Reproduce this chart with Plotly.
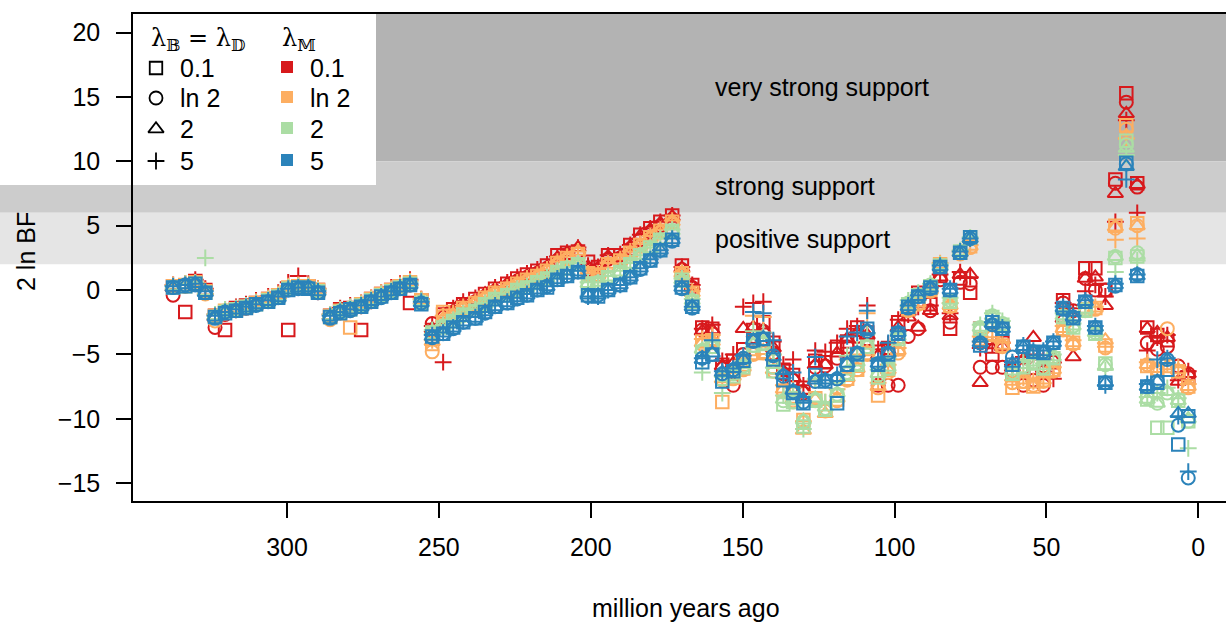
import plotly.graph_objects as go

# ---------------- data ----------------
T = [337.5, 333.5, 330.2, 326.9,
     323.7, 320.4, 316.8, 313.5, 310.2, 306.2, 302.9, 299.6, 296.3, 293.0, 289.8,
     285.8, 282.5, 279.2, 275.6, 272.3, 269.0, 265.7, 262.8, 259.5, 255.8,
     252.2, 248.6, 245.3, 242.0, 238.0, 234.8, 231.5, 227.5, 224.2, 221.0, 217.6, 214.4, 211.0, 207.8, 204.2,
     200.9, 197.6, 194.3, 190.3, 187.0, 183.7, 180.4, 177.1, 173.2,
     170.0, 166.6, 163.3, 160.0, 156.7, 153.1, 149.8, 146.5, 143.2, 139.9, 136.6, 133.4, 130.0, 126.1, 122.8,
     118.9, 115.6, 112.3, 109.0, 105.4, 102.1, 98.8, 95.5, 92.2, 88.2, 85.0, 81.7, 78.4, 75.1,
     71.8, 67.8, 64.5, 61.2, 57.6, 54.3, 51.0, 47.7, 44.5, 41.2, 37.2, 33.9, 30.6, 27.3, 23.7, 20.1,
     16.8, 13.5, 10.2, 6.6, 3.3]

# lambda_M = 0.1 (red)
R_sq = [0.3, -1.7, 0.7, 0.0,
        -2.0, -3.1, -1.4, -1.2, -1.0, -0.7, -0.4, -3.1, 0.3, 0.3, 0.0,
        -2.0, -1.5, -1.4, -3.1, -0.7, -0.3, 0.0, 0.3, -1.0, -0.8,
        -3.1, -1.9, -1.5, -1.1, -0.7, -0.3, 0.1, 0.5, 0.9, 1.2, 1.5, 1.9, 2.7, 2.9, 3.0,
        2.2, 1.8, 2.7, 2.7, 3.5, 4.3, 4.8, 5.3, 5.8,
        1.9, 0.4, -2.9, -3.0, -5.8, -5.5, -4.6, -3.1, -2.5, -4.1, -6.2, -6.6, -7.6, -5.5, -5.6,
        -4.4, -4.0, -2.9, -3.3, -4.8, -4.5, -2.5, -1.5, -0.2, -1.1, 1.1, -3.0, 0.9, -0.2,
        -3.0, -5.0, -4.1, -6.5, -6.2, -6.6, -6.4, -5.6, -0.8, -1.9, 1.7, 1.7, 0.0, 8.6, 15.3, 8.3,
        -2.9, -3.5, -3.9, -6.3, -6.8]
R_ci = [-0.4, 0.3, 0.6, -0.1,
        -2.9, -1.9, -1.6, -1.4, -1.1, -0.8, -0.5, 0.1, 0.2, 0.3, -0.2,
        -2.1, -1.7, -1.5, -1.3, -0.9, -0.4, -0.1, 0.2, 0.4, -1.0,
        -2.6, -2.1, -1.7, -1.2, -0.9, -0.5, -0.1, 0.3, 0.7, 1.0, 1.3, 1.7, 2.3, 2.6, 2.9,
        1.6, 1.6, 2.4, 2.5, 3.2, 3.9, 4.5, 5.0, 5.5,
        1.6, 0.2, -3.1, -3.4, -6.1, -7.4, -5.0, -3.6, -3.2, -4.9, -6.5, -7.0, -8.0, -6.0, -5.9,
        -5.3, -4.4, -3.6, -3.8, -7.4, -7.4, -7.4, -3.6, -3.0, -1.6, 0.8, -2.5, 0.6, 0.5,
        -6.0, -6.0, -6.0, -6.3, -7.4, -7.0, -7.4, -6.3, -1.0, -1.6, 0.9, 0.0, 0.0, 8.3, 14.6, 8.0,
        -4.1, -4.6, -4.4, -5.9, -6.5]
R_tr = [0.2, 0.4, 0.6, -0.1,
        -2.1, -1.7, -1.5, -1.3, -1.0, -0.7, -0.4, 0.2, 0.3, 0.3, 0.0,
        -2.0, -1.6, -1.4, -1.2, -0.7, -0.3, 0.0, 0.3, 0.6, -0.8,
        -3.0, -1.9, -1.6, -1.1, -0.8, -0.3, 0.1, 0.5, 0.8, 1.1, 1.4, 1.8, 2.5, 2.9, 3.3,
        1.8, 1.7, 2.6, 2.6, 3.4, 4.2, 4.7, 5.2, 5.7,
        1.7, 0.3, -3.2, -3.1, -5.9, -5.7, -3.0, -2.9, -3.1, -4.5, -6.3, -6.8, -7.8, -5.8, -5.8,
        -4.9, -3.8, -3.3, -3.5, -5.1, -4.7, -2.9, -2.1, -2.9, -1.6, 1.0, -2.0, 1.2, 1.2,
        -7.2, -4.6, -4.4, -6.0, -5.4, -3.7, -6.1, -5.4, -2.2, -5.2, 0.9, 1.0, -1.2, 7.5, 13.7, 8.2,
        -3.0, -3.3, -3.7, -7.1, -6.5]
R_pl = [0.4, 0.5, 0.8, 0.1,
        -1.9, -1.5, -1.3, -1.1, -0.8, -0.5, -0.2, 0.6, 1.1, 0.5, 0.1,
        -1.9, -1.4, -1.2, -1.0, -0.6, -0.2, 0.2, 0.5, 0.8, -0.7,
        -2.8, -5.6, -1.4, -0.9, -0.6, -0.8, 0.2, 0.6, 1.0, 1.3, 1.6, 2.0, 2.6, 2.9, 3.3,
        1.9, 1.8, 2.7, 2.8, 3.5, 4.3, 4.8, 5.3, 5.8,
        1.8, 0.4, -3.0, -2.7, -5.5, -5.0, -1.3, -1.0, -0.9, -4.0, -5.8, -5.4, -7.4, -4.7, -4.8,
        -4.1, -3.0, -2.8, -1.2, -4.6, -4.2, -2.3, -1.9, -1.3, -1.2, 1.2, -1.8, 1.4, 1.0,
        -4.5, -4.2, -4.1, -5.8, -5.2, -5.0, -5.4, -6.9, -1.0, -1.8, -0.1, 0.4, -0.5, 5.3, 13.2, 6.0,
        -4.7, -3.7, -3.5, -7.0, -6.3]

# lambda_M = ln 2 (orange)
O_sq = [0.3, 0.4, 0.6, -0.1,
        -2.0, -1.6, -1.5, -1.3, -1.0, -0.7, -0.4, 0.2, 0.3, 0.3, 0.0,
        -2.0, -1.6, -2.9, -1.1, -0.7, -0.3, 0.0, 0.3, 0.6, -0.8,
        -4.2, -1.7, -2.0, -1.4, -1.0, -0.6, -0.2, 0.1, 0.5, 0.8, 1.1, 1.5, 2.1, 2.5, 2.8,
        1.3, 1.2, 2.0, 2.3, 2.9, 3.5, 4.1, 4.6, 5.3,
        1.3, -0.2, -4.0, -3.9, -8.7, -6.8, -6.1, -4.9, -4.8, -6.0, -7.8, -8.4, -10.1, -8.4, -9.3,
        -8.5, -6.9, -6.2, -4.9, -8.2, -6.2, -4.6, -1.5, -1.0, 0.0, 2.0, -1.2, 2.9, 3.4,
        -3.8, -3.4, -4.3, -7.6, -7.1, -7.5, -7.0, -6.2, -3.0, -4.1, -1.5, -1.4, -4.3, 5.0, 12.8, 5.2,
        -5.9, -6.2, -5.9, -6.3, -7.5]
O_ci = [0.2, 0.3, 0.5, -0.3,
        -2.4, -1.8, -1.6, -1.4, -1.1, -0.8, -0.5, 0.1, 0.2, 0.2, -0.1,
        -2.3, -1.8, -1.6, -1.3, -0.9, -0.4, -0.1, 0.2, 0.5, -0.9,
        -4.8, -2.0, -2.1, -1.5, -1.1, -0.7, -0.3, 0.0, 0.4, 0.7, 1.0, 1.4, 2.0, 2.4, 2.8,
        1.2, 1.1, 1.9, 2.2, 2.8, 3.4, 4.0, 4.5, 5.2,
        1.2, -0.3, -4.2, -4.1, -7.0, -6.9, -6.2, -5.0, -4.9, -6.3, -7.9, -8.6, -10.3, -8.6, -9.4,
        -8.6, -7.0, -6.2, -5.0, -7.6, -6.4, -4.9, -1.6, -1.1, -0.1, 1.9, -1.3, 2.8, 3.3,
        -3.9, -3.5, -4.4, -7.2, -7.1, -7.4, -7.1, -6.3, -3.1, -4.2, -1.6, -1.5, -4.5, 4.8, 12.5, 5.0,
        -5.8, -6.2, -3.0, -6.3, -7.6]
O_tr = [0.3, 0.4, 0.6, -0.1,
        -2.0, -1.6, -1.4, -1.2, -1.0, -0.7, -0.4, 0.2, 0.3, 0.3, 0.0,
        -2.0, -1.6, -1.4, -1.1, -0.7, -0.3, 0.0, 0.3, 0.6, -0.8,
        -4.0, -2.2, -1.9, -1.4, -1.0, -0.6, -0.2, 0.1, 0.5, 0.8, 1.1, 1.5, 2.1, 2.5, 3.0,
        1.2, 1.2, 2.0, 2.3, 2.9, 3.5, 4.1, 4.6, 5.3,
        1.3, -0.2, -4.1, -4.0, -6.9, -6.7, -6.0, -4.8, -4.7, -6.2, -7.7, -8.5, -10.9, -8.5, -9.6,
        -8.4, -6.8, -6.1, -4.8, -7.5, -6.2, -4.7, -1.5, -1.0, 0.0, 2.0, -1.2, 2.9, 3.4,
        -3.8, -3.4, -4.3, -7.1, -7.0, -7.3, -7.0, -6.2, -3.0, -4.1, -1.5, -1.4, -3.9, 4.9, 12.0, 5.0,
        -5.8, -6.1, -5.9, -6.2, -7.5]
O_pl = [0.4, 0.5, 0.6, 0.0,
        -1.9, -1.5, -1.4, -1.2, -0.9, -0.6, -0.3, 0.3, 0.4, 0.4, 0.1,
        -1.9, -1.5, -1.3, -1.0, -0.6, -0.2, 0.1, 0.4, 0.7, -0.7,
        -3.9, -2.0, -1.8, -1.3, -0.9, -0.5, -0.1, 0.2, 0.6, 0.9, 1.2, 1.6, 2.2, 2.6, 3.0,
        1.3, 1.3, 2.1, 2.4, 3.0, 3.6, 4.2, 4.7, 5.4,
        1.4, -0.1, -3.8, -3.5, -6.7, -6.2, -5.3, -2.0, -2.1, -5.0, -7.4, -7.6, -10.2, -7.0, -8.7,
        -7.7, -5.4, -5.0, -1.8, -7.2, -5.8, -4.5, -1.3, -0.8, 0.1, 2.1, -1.0, 3.0, 3.5,
        -3.6, -3.2, -4.1, -7.0, -6.8, -7.1, -6.8, -6.0, -2.8, -3.9, -1.3, -1.3, -4.4, 3.9, 11.8, 4.0,
        -5.6, -5.9, -5.7, -6.0, -7.3]

# lambda_M = 2 (green)
G_sq = [0.2, 0.3, 0.5, -0.2,
        -2.1, -1.7, -1.5, -1.3, -1.1, -0.8, -0.5, 0.1, 0.2, 0.1, -0.1,
        -2.1, -1.7, -1.5, -1.2, -0.8, -0.4, -0.1, 0.2, 0.5, -1.0,
        -3.3, -2.9, -2.4, -1.9, -1.6, -1.1, -0.7, -0.4, 0.0, 0.2, 0.6, 0.9, 1.4, 1.7, 2.0,
        0.5, 0.5, 1.0, 1.4, 2.0, 2.7, 3.3, 3.9, 4.6,
        0.8, -0.9, -4.8, -4.4, -6.9, -6.7, -6.0, -4.3, -4.2, -6.3, -8.9, -8.7, -10.6, -8.6, -9.3,
        -8.2, -6.5, -5.8, -4.4, -6.8, -6.1, -3.8, -1.1, -0.4, 0.3, 1.9, -0.9, 3.0, 4.1,
        -3.0, -2.1, -2.7, -6.5, -6.0, -5.7, -6.1, -5.3, -2.1, -2.9, -1.6, -3.4, -5.7, 2.5, 11.6, 2.6,
        -8.5, -10.7, -10.7, -8.6, -10.2]
G_ci = [0.2, 0.4, 0.5, -0.2,
        -2.1, -1.6, -1.5, -1.3, -1.1, -0.8, -0.5, 0.1, 0.2, 0.2, -0.1,
        -2.1, -1.6, -1.4, -1.2, -0.8, -0.4, -0.1, 0.2, 0.5, -0.9,
        -3.3, -2.8, -2.4, -2.0, -1.6, -1.1, -0.7, -0.4, 0.0, 0.2, 0.6, 0.9, 1.4, 1.7, 2.0,
        0.5, 0.6, 1.0, 1.4, 2.0, 2.6, 3.2, 3.9, 4.6,
        0.7, -0.8, -4.7, -4.4, -6.6, -6.5, -5.9, -4.3, -4.1, -6.0, -8.6, -8.7, -10.2, -8.5, -9.2,
        -8.1, -6.4, -5.7, -4.4, -6.6, -6.1, -3.7, -1.0, -0.4, 0.4, 1.9, -0.8, 3.0, 4.0,
        -2.9, -2.0, -2.6, -6.4, -5.9, -5.6, -6.0, -5.2, -2.0, -2.8, -1.5, -3.3, -5.8, 2.6, 11.3, 2.9,
        -8.4, -8.8, -8.0, -8.5, -10.2]
G_tr = [0.3, 0.4, 0.5, -0.1,
        -2.0, -1.6, -1.5, -1.3, -1.1, -0.8, -0.5, 0.1, 0.2, 0.2, -0.1,
        -2.0, -1.6, -1.4, -1.2, -0.8, -0.4, -0.1, 0.2, 0.5, -0.9,
        -3.2, -2.8, -2.4, -1.9, -1.6, -1.1, -0.7, -0.4, 0.0, 0.2, 0.6, 0.9, 1.4, 1.8, 2.0,
        0.5, 0.6, 1.0, 1.4, 2.0, 2.7, 3.2, 3.9, 4.6,
        0.8, -0.8, -4.6, -4.3, -6.5, -6.4, -5.8, -4.2, -4.0, -5.8, -8.5, -8.6, -10.1, -8.4, -9.1,
        -8.0, -6.3, -5.6, -4.3, -6.5, -6.0, -3.6, -1.0, -0.3, 0.4, 1.9, -0.8, 3.0, 4.0,
        -2.9, -2.0, -2.6, -6.3, -5.8, -5.6, -5.9, -5.2, -2.0, -2.8, -1.5, -3.3, -5.9, 2.6, 11.0, 2.7,
        -8.5, -8.8, -7.9, -8.6, -10.0]
G_pl = [0.3, 0.5, 0.6, 2.5,
        -1.9, -1.5, -1.4, -1.2, -1.0, -0.7, -0.4, 0.2, 0.3, 0.3, 0.0,
        -1.9, -1.5, -1.3, -1.1, -0.7, -0.3, 0.0, 0.3, 0.6, -0.8,
        -3.1, -2.7, -2.3, -1.8, -1.5, -1.0, -0.6, -0.3, 0.1, 0.3, 0.7, 1.0, 1.5, 1.8, 2.1,
        0.6, 0.6, 1.1, 1.5, 2.1, 2.7, 3.3, 4.0, 4.7,
        0.9, -0.7, -6.4, -4.0, -8.0, -6.3, -5.5, -3.2, -3.3, -5.0, -8.2, -7.9, -10.8, -6.9, -8.7,
        -7.2, -5.1, -4.5, -3.4, -6.2, -5.3, -3.4, -0.8, -0.2, 0.5, 2.0, -0.6, 3.1, 4.1,
        -2.7, -1.8, -2.4, -6.1, -5.6, -5.4, -5.7, -5.0, -1.8, -2.6, -1.3, -3.1, -6.2, 1.4, 10.5, 2.3,
        -8.3, -8.0, -7.6, -8.4, -12.3]

# lambda_M = 5 (blue)
B_sq = [0.2, 0.3, 0.5, -0.2,
        -2.1, -1.8, -1.6, -1.4, -1.1, -0.9, -0.6, 0.0, 0.2, 0.1, -0.2,
        -2.1, -1.8, -1.5, -1.3, -0.9, -0.5, -0.2, 0.1, 0.4, -1.1,
        -3.6, -3.4, -2.9, -2.5, -2.2, -1.7, -1.3, -1.0, -0.6, -0.4, 0.0, 0.2, 0.8, 1.1, 1.4,
        -0.4, -0.5, 0.0, 0.4, 1.0, 1.7, 2.3, 3.1, 3.9,
        0.2, -1.3, -5.6, -5.0, -7.1, -6.3, -5.5, -3.9, -3.8, -5.4, -7.0, -8.0, -8.8, -6.6, -7.1,
        -8.8, -5.8, -5.0, -3.0, -5.8, -5.0, -3.4, -1.3, -0.5, 0.2, 1.8, 0.0, 2.9, 4.1,
        -4.3, -2.5, -3.0, -5.8, -4.4, -4.8, -4.9, -4.1, -1.4, -2.2, -0.9, -2.9, -7.2, 0.4, 9.9, 1.1,
        -7.5, -7.2, -6.2, -12.0, -9.8]
B_ci = [0.2, 0.4, 0.4, -0.2,
        -2.2, -1.7, -1.6, -1.4, -1.2, -0.9, -0.6, 0.0, 0.1, 0.2, -0.2,
        -2.2, -1.7, -1.6, -1.3, -0.9, -0.6, -0.2, 0.1, 0.4, -1.0,
        -3.7, -3.4, -3.0, -2.5, -2.2, -1.8, -1.3, -1.0, -0.7, -0.4, 0.0, 0.3, 0.8, 1.1, 1.4,
        -0.5, -0.4, 0.0, 0.4, 1.0, 1.6, 2.3, 3.1, 3.8,
        0.1, -1.4, -5.3, -5.0, -6.5, -6.2, -5.3, -4.0, -3.8, -5.1, -6.7, -7.9, -8.7, -7.1, -7.0,
        -6.9, -5.8, -4.9, -3.2, -5.7, -4.9, -3.3, -1.4, -0.5, 0.1, 1.8, 0.0, 2.9, 4.0,
        -4.1, -2.7, -3.0, -5.2, -4.4, -4.8, -4.8, -4.1, -1.5, -2.1, -0.9, -2.9, -7.2, 0.3, 9.8, 1.2,
        -7.5, -7.1, -5.4, -10.5, -14.6]
B_tr = [0.2, 0.4, 0.5, -0.2,
        -2.1, -1.7, -1.55, -1.4, -1.15, -0.9, -0.6, 0.0, 0.15, 0.15, -0.15,
        -2.1, -1.7, -1.55, -1.3, -0.9, -0.5, -0.15, 0.15, 0.4, -1.0,
        -3.6, -3.35, -2.95, -2.5, -2.2, -1.7, -1.3, -1.0, -0.6, -0.4, 0.0, 0.25, 0.8, 1.15, 1.4,
        -0.4, -0.4, 0.0, 0.4, 1.0, 1.7, 2.35, 3.1, 3.9,
        0.2, -1.3, -5.4, -4.9, -6.4, -6.1, -5.4, -3.9, -3.7, -5.2, -6.6, -7.8, -8.5, -7.0, -7.0,
        -6.8, -5.7, -4.9, -3.1, -5.7, -4.9, -3.3, -1.3, -0.5, 0.15, 1.8, 0.0, 2.9, 4.0,
        -4.1, -2.6, -3.0, -5.7, -4.4, -4.8, -4.8, -4.1, -1.4, -2.1, -0.9, -2.9, -7.2, 0.4, 9.6, 1.1,
        -7.5, -7.1, -5.4, -9.6, -9.6]
B_pl = [0.3, 0.4, 0.5, -0.1,
        -2.0, -1.7, -1.5, -1.3, -1.1, -0.8, -0.5, 0.1, 0.2, 0.2, -0.1,
        -2.0, -1.7, -1.5, -1.2, -0.8, -0.5, -0.1, 0.2, 0.5, -0.9,
        -3.5, -3.3, -2.9, -2.4, -2.1, -1.7, -1.2, -0.9, -0.6, -0.3, 0.1, 0.3, 0.9, 1.2, 1.5,
        -0.5, -0.5, 0.0, 0.4, 1.0, 1.7, 2.4, 3.1, 4.0,
        0.3, -1.3, -5.3, -3.9, -6.3, -6.1, -5.1, -1.7, -1.8, -3.9, -6.5, -6.4, -8.6, -5.2, -7.0,
        -6.6, -3.6, -3.3, -1.6, -5.5, -4.1, -3.2, -1.2, -0.4, 0.2, 1.9, 0.1, 3.0, 4.0,
        -4.0, -2.5, -2.9, -5.6, -4.3, -4.7, -4.7, -4.0, -1.3, -2.0, -0.8, -2.8, -7.4, 0.5, 8.6, 1.2,
        -7.3, -5.4, -5.3, -9.8, -14.1]

COLORS = ["#D7191C", "#FDAE61", "#ABDDA4", "#2B83BA"]
LAMBDA_M_LABELS = ["0.1", "ln 2", "2", "5"]
LAMBDA_BD_LABELS = ["0.1", "ln 2", "2", "5"]
SYMBOLS = ["square-open", "circle-open", "triangle-up-open", "cross-thin-open"]
SIZES = [12.5, 13, 13.5, 12]
SERIES = [[R_sq, R_ci, R_tr, R_pl],
          [O_sq, O_ci, O_tr, O_pl],
          [G_sq, G_ci, G_tr, G_pl],
          [B_sq, B_ci, B_tr, B_pl]]

BANDS = [(10, 40, "#B3B3B3", "very strong support", 15.75),
         (6, 10, "#CCCCCC", "strong support", 8.1),
         (2, 6, "#E5E5E5", "positive support", 4.0)]

X_RANGE = [350.7, -9.12]
Y_RANGE = [-16.39, 21.45]
FONT = "Liberation Sans, Arial, Helvetica, sans-serif"
FS = 25

# figure geometry (pixels)
W, H = 1226, 623
L, R, TOP, BOT = 133, 0, 14, 122
PW, PH = W - L - R, H - TOP - BOT


def px(xp):
    return (xp - L) / PW


def py(yp):
    return (H - BOT - yp) / PH


fig = go.Figure()

for ci, col in enumerate(COLORS):
    for si, sym in enumerate(SYMBOLS):
        fig.add_trace(go.Scatter(
            x=T, y=SERIES[ci][si], mode="markers", showlegend=False,
            marker=dict(symbol=sym, size=SIZES[si], color=col,
                        line=dict(width=2, color=col)),
            hoverinfo="skip"))

# legend glyphs on a pixel-space overlay axis
leg_rows = [68, 98, 129, 161]
for i in range(4):
    fig.add_trace(go.Scatter(
        x=[156], y=[leg_rows[i]], mode="markers", showlegend=False,
        xaxis="x2", yaxis="y2", cliponaxis=False,
        marker=dict(symbol=SYMBOLS[i], size=SIZES[i], color="black",
                    line=dict(width=1.8, color="black"))))
    fig.add_trace(go.Scatter(
        x=[287], y=[leg_rows[i] - 1], mode="markers", showlegend=False,
        xaxis="x2", yaxis="y2", cliponaxis=False,
        marker=dict(symbol="square", size=12, color=COLORS[i],
                    line=dict(width=0))))

shapes = []
for (y0, y1, c, lab, ym) in BANDS:
    shapes.append(dict(type="rect", xref="paper", yref="y", x0=-0.2, x1=1.2,
                       y0=y0, y1=y1, fillcolor=c, line=dict(width=0), layer="below"))
# white legend box
shapes.append(dict(type="rect", xref="paper", yref="paper", x0=-0.2, x1=px(376),
                   y0=py(185), y1=1.0, fillcolor="white", line=dict(width=0), layer="below"))

annotations = []
for (y0, y1, c, lab, ym) in BANDS:
    annotations.append(dict(x=159.8, y=ym, xref="x", yref="y", text=lab, showarrow=False,
                            xanchor="left", yanchor="middle",
                            font=dict(family=FONT, size=FS, color="black")))

annotations.append(dict(x=px(149), y=py(39), xref="paper", yref="paper",
                        text="λ<sub>𝔹</sub> = λ<sub>𝔻</sub>", showarrow=False,
                        xanchor="left", yanchor="middle",
                        font=dict(family="DejaVu Serif, serif", size=24, color="black")))
annotations.append(dict(x=px(280), y=py(39), xref="paper", yref="paper",
                        text="λ<sub>𝕄</sub>", showarrow=False,
                        xanchor="left", yanchor="middle",
                        font=dict(family="DejaVu Serif, serif", size=24, color="black")))
for i in range(4):
    annotations.append(dict(x=px(178), y=py(leg_rows[i]), xref="paper", yref="paper",
                            text=LAMBDA_BD_LABELS[i], showarrow=False,
                            xanchor="left", yanchor="middle",
                            font=dict(family=FONT, size=FS, color="black")))
    annotations.append(dict(x=px(308), y=py(leg_rows[i]), xref="paper", yref="paper",
                            text=LAMBDA_M_LABELS[i], showarrow=False,
                            xanchor="left", yanchor="middle",
                            font=dict(family=FONT, size=FS, color="black")))

annotations.append(dict(x=px(686), y=py(608), xref="paper", yref="paper",
                        text="million years ago", showarrow=False,
                        xanchor="center", yanchor="middle",
                        font=dict(family=FONT, size=FS, color="black")))
annotations.append(dict(x=px(26), y=py(252), xref="paper", yref="paper",
                        text="2 ln BF", showarrow=False, textangle=-90,
                        xanchor="center", yanchor="middle",
                        font=dict(family=FONT, size=FS, color="black")))

fig.update_layout(
    width=W, height=H,
    margin=dict(l=L, r=R, t=TOP, b=BOT, pad=0),
    paper_bgcolor="white", plot_bgcolor="rgba(0,0,0,0)",
    shapes=shapes, annotations=annotations,
    font=dict(family=FONT, size=FS, color="black"),
    xaxis=dict(range=X_RANGE, tickvals=[0, 50, 100, 150, 200, 250, 300],
               showgrid=False, zeroline=False, showline=True, linecolor="black",
               linewidth=1.5, mirror=True, ticks="outside", ticklen=15, tickwidth=1.5,
               tickcolor="black", ticklabelstandoff=8,
               tickfont=dict(family=FONT, size=FS, color="black")),
    yaxis=dict(range=Y_RANGE, tickvals=[-15, -10, -5, 0, 5, 10, 15, 20],
               showgrid=False, zeroline=False, showline=True, linecolor="black",
               linewidth=1.5, mirror=False, ticks="outside", ticklen=15, tickwidth=1.5,
               tickcolor="black", ticklabelstandoff=11,
               tickfont=dict(family=FONT, size=FS, color="black")),
    xaxis2=dict(range=[L, W], overlaying="x", visible=False),
    yaxis2=dict(range=[H - BOT, TOP], overlaying="y", visible=False),
)

fig.write_html("out.html")
